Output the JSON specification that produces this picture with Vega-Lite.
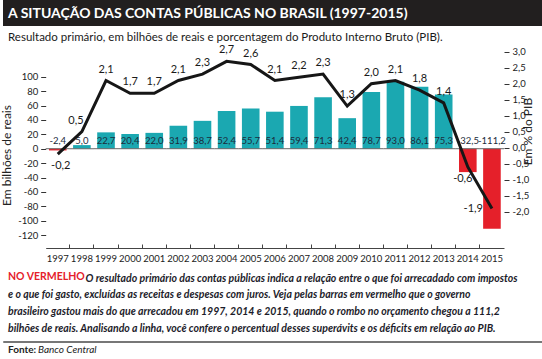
{
  "$schema": "https://vega.github.io/schema/vega-lite/v6.json",
  "padding": 0,
  "spacing": 0,
  "background": "white",
  "title": {
    "text": "Banco Central",
    "orient": "bottom",
    "anchor": "start",
    "frame": "group",
    "offset": -10,
    "dx": 35,
    "color": "#222222",
    "fontSize": 10,
    "fontWeight": "normal",
    "fontStyle": "italic"
  },
  "config": {
    "font": "Lato, Roboto, sans-serif",
    "locale": {"number": {"decimal": ",", "thousands": ".", "grouping": [3], "currency": ["R$", ""], "minus": "-"}},
    "axis": {"grid": false},
    "view": {"stroke": null}
  },
  "vconcat": [
    {
      "width": 542,
      "height": 26,
      "view": {"fill": "#221f1f", "stroke": null},
      "data": {"values": [{}]},
      "mark": {"type": "text", "text": ""},
      "encoding": {},
      "title": {
        "text": "A SITUAÇÃO DAS CONTAS PÚBLICAS NO BRASIL (1997-2015)",
        "subtitle": "Resultado primário, em bilhões de reais e porcentagem do Produto Interno Bruto (PIB).",
        "orient": "bottom",
        "anchor": "start",
        "frame": "group",
        "offset": -19,
        "dx": 5,
        "color": "#ffffff",
        "fontSize": 14,
        "fontWeight": "bold",
        "subtitleColor": "#1a1a1a",
        "subtitleFontSize": 11.5,
        "subtitlePadding": 11
      }
    },
    {
      "width": 542,
      "height": 201,
      "view": {"stroke": null},
      "title": {
        "text": "NO VERMELHO",
        "subtitle": [
          "e o que foi gasto, excluídas as receitas e despesas com juros. Veja pelas barras em vermelho que o governo",
          "brasileiro gastou mais do que arrecadou em 1997, 2014 e 2015, quando o rombo no orçamento chegou a 111,2",
          "bilhões de reais. Analisando a linha, você confere o percentual desses superávits e os déficits em relação ao PIB."
        ],
        "orient": "bottom",
        "anchor": "start",
        "frame": "group",
        "offset": -12,
        "dx": 5,
        "color": "#e5202a",
        "fontSize": 10.5,
        "fontWeight": "bold",
        "subtitleColor": "#1c1c2a",
        "subtitleFontSize": 10.5,
        "subtitleFontStyle": "italic",
        "subtitleFontWeight": "bold",
        "subtitleLineHeight": 17,
        "subtitlePadding": 8
      },
      "data": {
        "values": [
          {"year": "1997", "valor": -2.4, "pib": -0.2},
          {"year": "1998", "valor": 5.0, "pib": 0.5},
          {"year": "1999", "valor": 22.7, "pib": 2.1},
          {"year": "2000", "valor": 20.4, "pib": 1.7},
          {"year": "2001", "valor": 22.0, "pib": 1.7},
          {"year": "2002", "valor": 31.9, "pib": 2.1},
          {"year": "2003", "valor": 38.7, "pib": 2.3},
          {"year": "2004", "valor": 52.4, "pib": 2.7},
          {"year": "2005", "valor": 55.7, "pib": 2.6},
          {"year": "2006", "valor": 51.4, "pib": 2.1},
          {"year": "2007", "valor": 59.4, "pib": 2.2},
          {"year": "2008", "valor": 71.3, "pib": 2.3},
          {"year": "2009", "valor": 42.4, "pib": 1.3},
          {"year": "2010", "valor": 78.7, "pib": 2.0},
          {"year": "2011", "valor": 93.0, "pib": 2.1},
          {"year": "2012", "valor": 86.1, "pib": 1.8},
          {"year": "2013", "valor": 75.3, "pib": 1.4},
          {"year": "2014", "valor": -32.5, "pib": -0.6},
          {"year": "2015", "valor": -111.2, "pib": -1.9}
        ]
      },
      "encoding": {
        "x": {
          "field": "year",
          "type": "ordinal",
          "scale": {"type": "band", "range": [42.7, 501], "paddingInner": 0, "paddingOuter": 0},
          "axis": {
            "orient": "bottom",
            "title": "O resultado primário das contas públicas indica a relação entre o que foi arrecadado com impostos",
            "titleX": 82,
            "titleY": 25,
            "titleAlign": "left",
            "titleBaseline": "top",
            "titleColor": "#1c1c2a",
            "titleFontSize": 10.5,
            "titleFontStyle": "italic",
            "titleFontWeight": "bold",
            "titleLimit": 1000,
            "labelAngle": 0,
            "labelFontSize": 9.5,
            "labelColor": "#222222",
            "labelPadding": 9,
            "domain": true,
            "domainColor": "#444444",
            "domainWidth": 1,
            "ticks": true,
            "tickSize": -4,
            "tickColor": "#444444",
            "bandPosition": 0,
            "tickOpacity": {"condition": {"test": "datum.value == '1997'", "value": 0}, "value": 1}
          }
        }
      },
      "layer": [
        {
          "encoding": {
            "y": {
              "type": "quantitative",
              "scale": {"domain": [-137.9, 141.25], "nice": false, "zero": false},
              "axis": {
                "orient": "left",
                "offset": -42.7,
                "values": [-120, -100, -80, -60, -40, -20, 0, 20, 40, 60, 80, 100],
                "format": "d",
                "domain": false,
                "tickSize": 5,
                "tickColor": "#333333",
                "labelFontSize": 9.5,
                "labelColor": "#222222",
                "labelPadding": 3,
                "title": "Em bilhões de reais",
                "titleFontSize": 12,
                "titleFontWeight": "normal",
                "titleColor": "#222222",
                "titlePadding": 4,
                "titleY": 108
              }
            }
          },
          "layer": [
            {
              "mark": {"type": "bar", "width": {"band": 0.73}},
              "encoding": {
                "y": {"field": "valor", "type": "quantitative"},
                "color": {"condition": {"test": "datum.valor < 0", "value": "#e5202a"}, "value": "#1ba8b1"}
              }
            },
            {
              "mark": {"type": "tick", "size": 24.2, "thickness": 1, "color": "#666666", "opacity": 1},
              "encoding": {"y": {"datum": 0, "type": "quantitative"}}
            },
            {
              "mark": {"type": "text", "baseline": "bottom", "dy": -3, "fontSize": 9.5, "color": "#1b2b3b"},
              "encoding": {
                "y": {"datum": 0, "type": "quantitative"},
                "text": {"field": "valor", "type": "quantitative", "format": ".1f"}
              }
            }
          ]
        },
        {
          "encoding": {
            "y": {
              "type": "quantitative",
              "scale": {"domain": [-3.134, 3.147], "nice": false, "zero": false},
              "axis": {
                "orient": "right",
                "offset": -41,
                "values": [-2, -1.5, -1, -0.5, 0, 0.5, 1, 1.5, 2, 2.5, 3],
                "format": ".1f",
                "domain": false,
                "tickSize": 5,
                "tickColor": "#333333",
                "labelFontSize": 9.5,
                "labelColor": "#222222",
                "labelPadding": 3,
                "title": "Em % do PIB",
                "titleAngle": 270,
                "titleFontSize": 12,
                "titleFontWeight": "normal",
                "titleColor": "#222222",
                "titlePadding": 6,
                "titleY": 84
              }
            }
          },
          "layer": [
            {
              "mark": {"type": "line", "color": "#161616", "strokeWidth": 3},
              "encoding": {"y": {"field": "pib", "type": "quantitative"}}
            },
            {
              "transform": [{"filter": "indexof(['1997','1998','2014','2015'], datum.year) < 0"}],
              "mark": {"type": "text", "baseline": "bottom", "dy": -6, "fontSize": 11, "color": "#1a1a1a"},
              "encoding": {
                "y": {"field": "pib", "type": "quantitative"},
                "text": {"field": "pib", "type": "quantitative", "format": ".1f"}
              }
            },
            {
              "transform": [{"filter": "datum.year == '1998'"}],
              "mark": {"type": "text", "baseline": "bottom", "dy": -6, "dx": -6, "fontSize": 11, "color": "#1a1a1a"},
              "encoding": {
                "y": {"field": "pib", "type": "quantitative"},
                "text": {"field": "pib", "type": "quantitative", "format": ".1f"}
              }
            },
            {
              "transform": [{"filter": "datum.year == '1997'"}],
              "mark": {"type": "text", "baseline": "top", "dy": 6, "dx": 3, "fontSize": 11, "color": "#1a1a1a"},
              "encoding": {
                "y": {"field": "pib", "type": "quantitative"},
                "text": {"field": "pib", "type": "quantitative", "format": ".1f"}
              }
            },
            {
              "transform": [{"filter": "datum.year == '2014'"}],
              "mark": {"type": "text", "baseline": "top", "dy": 6, "dx": -5, "fontSize": 11, "color": "#1a1a1a"},
              "encoding": {
                "y": {"field": "pib", "type": "quantitative"},
                "text": {"field": "pib", "type": "quantitative", "format": ".1f"}
              }
            },
            {
              "transform": [{"filter": "datum.year == '2015'"}],
              "mark": {"type": "text", "baseline": "middle", "align": "right", "dx": -9, "fontSize": 11, "color": "#1a1a1a"},
              "encoding": {
                "y": {"field": "pib", "type": "quantitative"},
                "text": {"field": "pib", "type": "quantitative", "format": ".1f"}
              }
            }
          ]
        }
      ],
      "resolve": {"scale": {"y": "independent"}}
    },
    {
      "width": 542,
      "height": 1,
      "view": {"fill": null, "stroke": "#777777", "strokeWidth": 1},
      "data": {"values": [{}]},
      "mark": {"type": "text", "text": ""},
      "encoding": {},
      "title": {
        "text": "Fonte:",
        "orient": "bottom",
        "anchor": "start",
        "frame": "group",
        "offset": -2,
        "dx": 5,
        "color": "#222222",
        "fontSize": 10,
        "fontWeight": "bold"
      }
    }
  ]
}
